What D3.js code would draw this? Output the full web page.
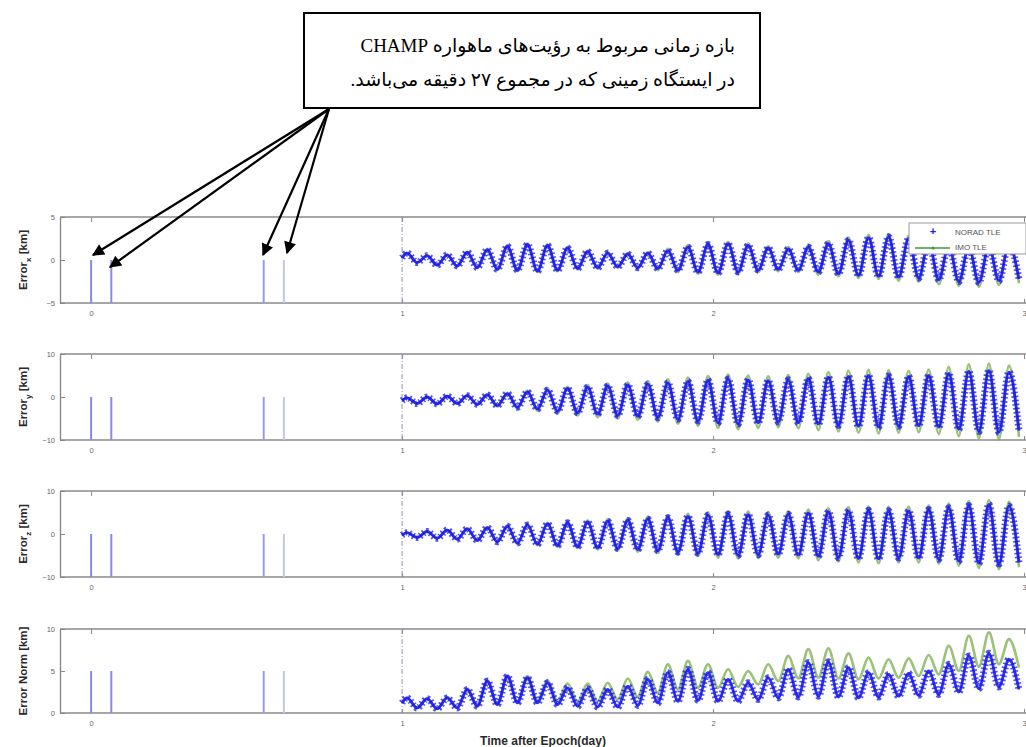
<!DOCTYPE html>
<html>
<head>
<meta charset="utf-8">
<script src="https://cdn.jsdelivr.net/npm/d3@7"></script>
<style>
  body { margin: 0; background: #fff; }
  svg { display: block; }
</style>
</head>
<body>
<div id="chart"></div>
<script>
// panels, top to bottom
const panelNames = ['x', 'y', 'z', 'norm']
const panelDomains = [[-5, 5], [-10, 10], [-10, 10], [0, 10]]
const panelTicks = [[-5, 0, 5], [-10, 0, 10], [-10, 0, 10], [0, 5, 10]]
const xTicks = [0, 1, 2, 3]

// ground station passes (day) and the span each bar covers
const passTimes = [0, 0.065, 0.555, 0.62]
const passColors = ['#8a8ae6', '#8a8ae6', '#9a9ae6', '#c4c4f2']
const passTop = [0, 0, 0, 5]
const passBottom = [-5, -10, -10, 0]

// propagation starts at day 1, one extreme every half orbit
const propStart = 1
const halfOrbit = 1 / 31

// per orbit maxima / minima
const noradXPeaks = [0.8, 0.5, 0.6, 0.9, 1.2, 1.6, 1.8, 1.7, 1.4, 1.0, 0.8, 0.7, 0.8, 1.1, 1.5, 1.8, 1.9, 1.7, 1.4, 1.3, 1.5, 1.9, 2.3, 2.6, 2.7, 2.5, 2.1, 1.7, 1.5, 1.6, 1.8]
const noradXTroughs = [-0.3, -0.6, -0.7, -0.9, -1.1, -1.2, -1.3, -1.2, -1.0, -0.9, -0.8, -0.9, -1.0, -1.2, -1.4, -1.5, -1.4, -1.2, -1.1, -1.2, -1.4, -1.6, -1.8, -1.9, -2.0, -2.1, -2.3, -2.5, -2.6, -2.4, -2.2]
const imoXPeaks = [0.8, 0.5, 0.6, 0.9, 1.3, 1.7, 1.9, 1.8, 1.5, 1.1, 0.9, 0.8, 0.9, 1.3, 1.7, 2.0, 2.1, 1.9, 1.6, 1.5, 1.7, 2.2, 2.6, 2.9, 3.0, 2.8, 2.4, 2.0, 1.8, 1.9, 2.1]
const imoXTroughs = [-0.3, -0.6, -0.7, -0.9, -1.1, -1.3, -1.4, -1.3, -1.1, -1.0, -0.9, -1.0, -1.2, -1.4, -1.6, -1.7, -1.6, -1.4, -1.3, -1.4, -1.7, -1.9, -2.1, -2.2, -2.4, -2.5, -2.8, -3.0, -3.1, -2.9, -2.7]

const noradYPeaks = [-0.2, 0.0, 0.2, 0.3, 0.5, 0.8, 1.2, 1.6, 2.0, 2.3, 2.6, 2.8, 3.0, 3.3, 3.6, 3.9, 4.2, 4.0, 3.8, 4.0, 4.3, 4.6, 4.8, 5.0, 4.9, 4.8, 5.0, 5.5, 6.0, 6.2, 5.8]
const noradYTroughs = [-1.5, -1.6, -1.5, -1.7, -2.0, -2.4, -2.8, -3.3, -3.7, -4.0, -4.3, -4.5, -4.8, -5.2, -5.6, -6.0, -6.3, -6.0, -5.8, -6.0, -6.3, -6.6, -6.8, -7.0, -6.8, -6.7, -7.0, -7.5, -8.0, -8.2, -7.8]
const imoYPeaks = [-0.2, 0.0, 0.2, 0.4, 0.6, 1.0, 1.5, 2.0, 2.4, 2.8, 3.1, 3.4, 3.7, 4.1, 4.5, 4.9, 5.2, 5.0, 4.8, 5.1, 5.4, 5.8, 6.1, 6.3, 6.2, 6.1, 6.4, 7.0, 7.6, 7.8, 7.3]
const imoYTroughs = [-1.5, -1.6, -1.6, -1.8, -2.2, -2.7, -3.2, -3.8, -4.3, -4.7, -5.0, -5.3, -5.7, -6.2, -6.7, -7.2, -7.5, -7.2, -7.0, -7.3, -7.7, -8.0, -8.3, -8.5, -8.3, -8.2, -8.6, -9.1, -9.6, -9.8, -9.3]

const noradZPeaks = [0.3, 0.6, 0.9, 1.2, 1.5, 1.8, 2.1, 2.4, 2.6, 2.8, 3.0, 3.2, 3.5, 3.8, 4.1, 4.4, 4.6, 4.5, 4.4, 4.6, 4.9, 5.2, 5.4, 5.5, 5.4, 5.4, 5.7, 6.1, 6.6, 6.9, 6.5]
const noradZTroughs = [-0.8, -1.0, -1.2, -1.5, -1.8, -2.1, -2.4, -2.7, -3.0, -3.2, -3.4, -3.6, -3.9, -4.2, -4.5, -4.8, -5.0, -4.8, -4.7, -4.9, -5.2, -5.5, -5.7, -5.8, -5.6, -5.6, -5.9, -6.3, -6.8, -7.0, -6.6]
const imoZPeaks = [0.3, 0.6, 0.9, 1.3, 1.6, 2.0, 2.3, 2.6, 2.9, 3.1, 3.4, 3.6, 4.0, 4.3, 4.7, 5.0, 5.3, 5.2, 5.1, 5.3, 5.7, 6.0, 6.2, 6.4, 6.3, 6.3, 6.6, 7.1, 7.6, 7.9, 7.5]
const imoZTroughs = [-0.8, -1.0, -1.3, -1.6, -1.9, -2.3, -2.6, -3.0, -3.3, -3.6, -3.8, -4.1, -4.4, -4.8, -5.1, -5.5, -5.7, -5.6, -5.5, -5.7, -6.1, -6.4, -6.6, -6.8, -6.6, -6.6, -6.9, -7.4, -7.9, -8.2, -7.7]

const noradNPeaks = [1.8, 1.7, 1.8, 2.8, 3.8, 4.4, 4.2, 3.6, 3.0, 2.9, 2.8, 3.2, 4.0, 4.8, 5.2, 4.8, 4.0, 3.6, 4.2, 5.2, 6.0, 6.1, 5.4, 4.8, 4.6, 4.7, 5.0, 5.8, 6.8, 7.1, 6.4]
const noradNTroughs = [0.6, 0.5, 0.6, 0.8, 1.0, 1.2, 1.2, 1.0, 0.8, 0.7, 0.7, 0.9, 1.2, 1.4, 1.5, 1.4, 1.4, 1.6, 1.8, 1.9, 2.0, 1.9, 1.8, 1.9, 2.0, 2.1, 2.2, 2.5, 2.9, 3.1, 2.8]
const imoNPeaks = [1.8, 1.7, 1.9, 2.9, 3.9, 4.5, 4.4, 3.9, 3.5, 3.5, 3.6, 4.1, 4.9, 5.8, 6.2, 5.8, 5.2, 5.0, 5.8, 6.8, 7.6, 7.7, 7.1, 6.6, 6.4, 6.5, 6.9, 8.0, 9.2, 9.6, 8.8]
const imoNTroughs = [0.6, 0.5, 0.7, 0.9, 1.1, 1.4, 1.5, 1.4, 1.3, 1.4, 1.6, 1.9, 2.4, 2.8, 3.0, 3.0, 3.1, 3.4, 3.8, 4.1, 4.2, 4.1, 4.0, 4.1, 4.2, 4.4, 4.6, 5.0, 5.5, 5.8, 5.4]

const seriesNames = ['NORAD TLE', 'IMO TLE']
const panelSeries = [
  [[noradXPeaks, noradXTroughs], [imoXPeaks, imoXTroughs]],
  [[noradYPeaks, noradYTroughs], [imoYPeaks, imoYTroughs]],
  [[noradZPeaks, noradZTroughs], [imoZPeaks, imoZTroughs]],
  [[noradNPeaks, noradNTroughs], [imoNPeaks, imoNTroughs]]
]

const noteLines = [
  'بازه زمانی مربوط به رؤیت‌های ماهواره CHAMP',
  'در ایستگاه زمینی که در مجموع ۲۷ دقیقه می‌باشد.'
]

// ---- layout ----
const width = 1026
const height = 747
const panelTopY = [217, 354, 491, 629]
const panelBottomY = [303, 440, 577, 713]
const plotLeft = 60
const blue = '#1a1aee'
const green = '#3c9a3c'

const svg = d3.select('#chart').append('svg')
  .attr('width', width)
  .attr('height', height)
  .style('font-family', 'Arial, "Liberation Sans", sans-serif')

svg.append('rect').attr('width', width).attr('height', height).attr('fill', '#fff')

const x = d3.scaleLinear().domain([-0.1, 3]).range([plotLeft, 1024])

// interleave maxima/minima into points
function toPoints(peaks, troughs) {
  const pts = []
  peaks.forEach((p, i) => {
    pts.push({ t: propStart + (2 * i + 0.5) * halfOrbit, v: p })
    pts.push({ t: propStart + (2 * i + 1.5) * halfOrbit, v: troughs[i] })
  })
  pts.unshift({ t: propStart, v: (peaks[0] + troughs[0]) / 2 })
  return pts
}

panelNames.forEach((name, pi) => {
  const y = d3.scaleLinear().domain(panelDomains[pi]).range([panelBottomY[pi], panelTopY[pi]])
  const g = svg.append('g')

  // frame
  g.append('line').attr('x1', plotLeft).attr('x2', width + 10)
    .attr('y1', panelTopY[pi]).attr('y2', panelTopY[pi])
    .attr('stroke', '#8a8a8a').attr('stroke-width', 1.6)
  g.append('line').attr('x1', plotLeft).attr('x2', width + 10)
    .attr('y1', panelBottomY[pi]).attr('y2', panelBottomY[pi])
    .attr('stroke', '#8a8a8a').attr('stroke-width', 1.6)

  // y axis
  const yAxis = g.append('g')
    .attr('transform', `translate(${plotLeft},0)`)
    .call(d3.axisLeft(y).tickValues(panelTicks[pi]).tickSizeInner(-5).tickSizeOuter(0).tickPadding(5))
  yAxis.select('.domain').attr('stroke', '#8a8a8a').attr('stroke-width', 1.4)
  yAxis.selectAll('.tick line').attr('stroke', '#888')
  yAxis.selectAll('text').attr('fill', '#666').attr('font-size', 7.5)

  // x axis, ticks inside at top and bottom
  const xBottom = g.append('g')
    .attr('transform', `translate(0,${panelBottomY[pi]})`)
    .call(d3.axisBottom(x).tickValues(xTicks).tickSizeInner(-4).tickSizeOuter(0).tickPadding(8).tickFormat(d3.format('d')))
  xBottom.select('.domain').remove()
  xBottom.selectAll('.tick line').attr('stroke', '#888')
  xBottom.selectAll('text').attr('fill', '#666').attr('font-size', 7.5)
  const xTop = g.append('g')
    .attr('transform', `translate(0,${panelTopY[pi]})`)
    .call(d3.axisTop(x).tickValues(xTicks).tickSizeInner(-5).tickSizeOuter(0).tickFormat(''))
  xTop.select('.domain').remove()
  xTop.selectAll('.tick line').attr('stroke', '#888')

  // ground station passes
  g.selectAll('.pass').data(passTimes).enter().append('line')
    .attr('class', 'pass')
    .attr('x1', d => x(d)).attr('x2', d => x(d))
    .attr('y1', y(passTop[pi])).attr('y2', y(passBottom[pi]))
    .attr('stroke', (d, i) => passColors[i]).attr('stroke-width', 2)

  // start of propagation
  g.append('line')
    .attr('x1', x(propStart)).attr('x2', x(propStart))
    .attr('y1', panelTopY[pi]).attr('y2', panelBottomY[pi])
    .attr('stroke', '#8c96b8').attr('stroke-width', 1)
    .attr('stroke-dasharray', '5 2 1 2')

  const line = d3.line().x(d => x(d.t)).y(d => y(d.v)).curve(d3.curveMonotoneX)
  const [norad, imo] = panelSeries[pi]
  const imoPts = toPoints(imo[0], imo[1])
  const noradPts = toPoints(norad[0], norad[1])

  // IMO TLE
  g.append('path').datum(imoPts).attr('d', line)
    .attr('fill', 'none').attr('stroke', '#6b7d5a').attr('stroke-width', 2.6).attr('opacity', 0.6)
  g.append('path').datum(imoPts).attr('d', line)
    .attr('fill', 'none').attr('stroke', '#8fd05a').attr('stroke-width', 1.4)

  // NORAD TLE: line plus dense '+' markers
  g.append('path').datum(noradPts).attr('d', line)
    .attr('fill', 'none').attr('stroke', blue).attr('stroke-width', 2.8).attr('opacity', 0.9)
  g.append('path').datum(noradPts).attr('d', line)
    .attr('fill', 'none').attr('stroke', blue).attr('stroke-width', 7)
    .attr('stroke-dasharray', '1.6 2.4').attr('opacity', 0.75)

  // y label
  const midY = (panelTopY[pi] + panelBottomY[pi]) / 2
  const label = svg.append('text')
    .attr('transform', `translate(27,${midY}) rotate(-90)`)
    .attr('text-anchor', 'middle')
    .attr('font-size', 11.5).attr('font-weight', 'bold').attr('fill', '#2a2a2a')
  if (name === 'norm') {
    label.text('Error Norm [km]')
  } else {
    label.append('tspan').text('Error')
    label.append('tspan').attr('font-size', 8).attr('dy', 4).text(name)
    label.append('tspan').attr('dy', -4).text(' [km]')
  }
})

// x label
svg.append('text')
  .attr('x', 543).attr('y', 745)
  .attr('text-anchor', 'middle')
  .attr('font-size', 12).attr('font-weight', 'bold').attr('fill', '#2a2a2a')
  .text('Time after Epoch(day)')

// legend on the first panel
const legend = svg.append('g').attr('transform', 'translate(909,223)')
legend.append('rect').attr('width', 117).attr('height', 31)
  .attr('fill', '#fff').attr('stroke', '#999').attr('stroke-width', 1)
legend.append('text').attr('x', 24).attr('y', 12).attr('text-anchor', 'middle')
  .attr('font-size', 11).attr('font-weight', 'bold').attr('fill', blue).text('+')
legend.append('line').attr('x1', 6).attr('x2', 41).attr('y1', 25).attr('y2', 25)
  .attr('stroke', green).attr('stroke-width', 1.4)
legend.append('circle').attr('cx', 24).attr('cy', 25).attr('r', 1.6).attr('fill', green)
seriesNames.forEach((s, i) => {
  legend.append('text').attr('x', 46).attr('y', 11.5 + i * 15)
    .attr('font-size', 8).attr('fill', '#555').text(s)
})

// annotation box and arrows
const noteBox = { x: 304, y: 13, w: 456, h: 95 }
svg.append('rect')
  .attr('x', noteBox.x).attr('y', noteBox.y).attr('width', noteBox.w).attr('height', noteBox.h)
  .attr('fill', '#fff').attr('stroke', '#000').attr('stroke-width', 2)
noteLines.forEach((t, i) => {
  svg.append('text')
    .attr('x', 735).attr('y', 52 + i * 34)
    .attr('direction', 'rtl').attr('text-anchor', 'start')
    .attr('font-family', '"Liberation Serif", "DejaVu Serif", "DejaVu Sans", serif')
    .attr('font-size', 19).attr('fill', '#000')
    .text(t)
})

svg.append('defs').append('marker')
  .attr('id', 'head').attr('viewBox', '0 0 10 10')
  .attr('refX', 9).attr('refY', 5)
  .attr('markerWidth', 6.5).attr('markerHeight', 5.5)
  .attr('markerUnits', 'strokeWidth')
  .attr('orient', 'auto')
  .append('path').attr('d', 'M0,0 L10,5 L0,10 z').attr('fill', '#000')

const arrowTips = [[93, 255], [110, 267], [263, 255], [287, 253]]
svg.selectAll('.arrow').data(arrowTips).enter().append('line')
  .attr('class', 'arrow')
  .attr('x1', 329).attr('y1', 109)
  .attr('x2', d => d[0]).attr('y2', d => d[1])
  .attr('stroke', '#000').attr('stroke-width', 2.2)
  .attr('marker-end', 'url(#head)')
</script>
</body>
</html>
